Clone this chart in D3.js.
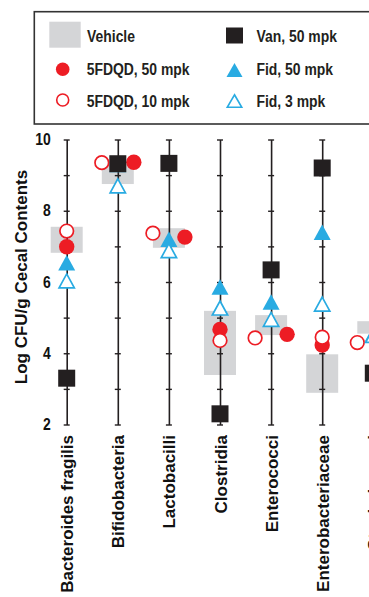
<!DOCTYPE html>
<html>
<head>
<meta charset="utf-8">
<script src="https://cdn.jsdelivr.net/npm/d3@7"></script>
<style>
    body { margin: 0; background: #fff; overflow: hidden; }
    svg { display: block; font-family: 'Liberation Sans', Arial, sans-serif; font-weight: bold; }
</style>
</head>
<body>
<svg id="chart" width="369" height="597"></svg>
<script>
var categories = ['Bacteroides fragilis', 'Bifidobacteria', 'Lactobacilli', 'Clostridia',
    'Enterococci', 'Enterobacteriaceae', 'Staphylococci'];
var vehicleLow = [6.82, 8.75, 6.96, 3.39, 4.51, 2.89, 4.55];
var vehicleHigh = [7.55, 9.3, 7.51, 5.19, 5.07, 3.97, 4.9];
var van50 = [3.30, 9.32, 9.33, 2.30, 6.34, 9.20, 3.44];
var fdqd50 = [6.99, 9.36, 7.26, 4.67, 4.53, 4.23, 4.4];
var fdqd10 = [7.43, 9.35, 7.37, 4.36, 4.43, 4.45, 4.3];
var fid50 = [6.54, 9.3, 7.2, 5.86, 5.44, 7.40, 4.55];
var fid3 = [6.03, 8.70, 6.88, 5.27, 4.95, 5.38, 4.5];
// circles pushed to the sides of the column where they collide with other marks
var circlesSplit = [false, true, true, false, true, false, true];
var yTicks = [2, 4, 6, 8, 10];
var legendLabels = ['Vehicle', 'Van, 50 mpk', '5FDQD, 50 mpk', 'Fid, 50 mpk', '5FDQD, 10 mpk', 'Fid, 3 mpk'];
var yTitle = 'Log CFU/g Cecal Contents';

var red = '#ed1c24';
var blue = '#29abe2';
var dark = '#231f20';
var grey = '#d4d5d7';
var squeeze = 0.87;
var splitOffset = 16;

var svg = d3.select('#chart');
var xScale = d3.scalePoint().domain(categories).range([66.7, 373.3]);
var yScale = d3.scaleLinear().domain([2, 10]).range([424.5, 139.5]);

function squeezeText(sel) {
    sel.each(function() {
        var len = this.getComputedTextLength();
        d3.select(this).attr('textLength', len * squeeze).attr('lengthAdjust', 'spacingAndGlyphs');
    });
}

function triPath(w, h) {
    return 'M0,' + (-h / 2) + 'L' + (w / 2) + ',' + (h / 2) + 'L' + (-w / 2) + ',' + (h / 2) + 'Z';
}

var rows = categories.map(function(c, i) {
    return {
        name: c, low: vehicleLow[i], high: vehicleHigh[i], van: van50[i],
        f50: fdqd50[i], f10: fdqd10[i], fid50: fid50[i], fid3: fid3[i], split: circlesSplit[i]
    };
});

/* Legend */
var legend = svg.append('g').attr('class', 'legend');
legend.append('rect')
    .attr('x', 34.3).attr('y', 11.7).attr('width', 360).attr('height', 112.3)
    .attr('fill', 'none').attr('stroke', '#333').attr('stroke-width', 1.6);
legend.append('rect').attr('x', 49.3).attr('y', 21.7).attr('width', 31.4).attr('height', 26).attr('fill', grey);
legend.append('rect').attr('x', 226).attr('y', 27.5).attr('width', 17).attr('height', 16).attr('fill', dark);
legend.append('circle').attr('cx', 62.7).attr('cy', 69.3).attr('r', 6.8).attr('fill', red);
legend.append('circle').attr('cx', 62.7).attr('cy', 100).attr('r', 6).attr('fill', '#fff')
    .attr('stroke', red).attr('stroke-width', 1.6);
legend.append('path').attr('transform', 'translate(234.5,70)').attr('d', triPath(16, 14)).attr('fill', blue);
legend.append('path').attr('transform', 'translate(234.5,101)').attr('d', triPath(14.5, 12.5))
    .attr('fill', '#fff').attr('stroke', blue).attr('stroke-width', 1.6);

var legendPos = [[87, 42], [256.5, 42], [86.7, 75], [256.5, 75], [86.7, 106.5], [256.5, 106.5]];
legend.selectAll('text.item')
    .data(legendLabels)
    .join('text')
    .attr('class', 'item')
    .attr('x', function(d, i) { return legendPos[i][0]; })
    .attr('y', function(d, i) { return legendPos[i][1]; })
    .style('font-size', '16px')
    .style('fill', dark)
    .text(function(d) { return d; })
    .call(squeezeText);

/* Vehicle boxes */
svg.append('g').selectAll('rect')
    .data(rows)
    .join('rect')
    .attr('x', function(d) { return xScale(d.name) - 16; })
    .attr('width', 32)
    .attr('y', function(d) { return yScale(d.high); })
    .attr('height', function(d) { return yScale(d.low) - yScale(d.high); })
    .attr('fill', grey);

/* One axis per column */
categories.forEach(function(c) {
    var g = svg.append('g')
        .attr('transform', 'translate(' + xScale(c) + ',0)')
        .call(d3.axisLeft(yScale).tickValues(d3.range(2, 11)).tickFormat('').tickSize(6).tickSizeOuter(0));
    g.select('.domain').attr('stroke', dark).attr('stroke-width', 1.6);
    g.selectAll('.tick line').attr('x1', 3).attr('x2', -3).attr('stroke', dark).attr('stroke-width', 1.4);
});

/* Tick labels */
var labelAxis = svg.append('g')
    .attr('transform', 'translate(' + xScale(categories[0]) + ',0)')
    .call(d3.axisLeft(yScale).tickValues(yTicks).tickSize(0).tickPadding(16));
labelAxis.select('.domain').remove();
labelAxis.selectAll('text')
    .attr('font-family', null)
    .style('font-size', '16px')
    .style('font-weight', 'bold')
    .style('fill', '#111')
    .call(squeezeText);

/* Markers */
svg.append('g').selectAll('circle')
    .data(rows)
    .join('circle')
    .attr('cx', function(d) { return xScale(d.name) + (d.split ? splitOffset : 0); })
    .attr('cy', function(d) { return yScale(d.f50); })
    .attr('r', 7.7)
    .attr('fill', red);

svg.append('g').selectAll('circle')
    .data(rows)
    .join('circle')
    .attr('cx', function(d) { return xScale(d.name) - (d.split ? splitOffset : 0); })
    .attr('cy', function(d) { return yScale(d.f10); })
    .attr('r', 6.8)
    .attr('fill', '#fff')
    .attr('stroke', red)
    .attr('stroke-width', 1.7);

svg.append('g').selectAll('path')
    .data(rows)
    .join('path')
    .attr('transform', function(d) { return 'translate(' + xScale(d.name) + ',' + yScale(d.fid50) + ')'; })
    .attr('d', triPath(17, 15.5))
    .attr('fill', blue);

svg.append('g').selectAll('rect')
    .data(rows)
    .join('rect')
    .attr('x', function(d) { return xScale(d.name) - 8.5; })
    .attr('y', function(d) { return yScale(d.van) - 8.5; })
    .attr('width', 17).attr('height', 17)
    .attr('fill', dark);

svg.append('g').selectAll('path')
    .data(rows)
    .join('path')
    .attr('transform', function(d) { return 'translate(' + xScale(d.name) + ',' + yScale(d.fid3) + ')'; })
    .attr('d', triPath(15.3, 14))
    .attr('fill', '#fff')
    .attr('stroke', blue)
    .attr('stroke-width', 1.7);

/* Category labels */
svg.append('g').selectAll('text')
    .data(categories)
    .join('text')
    .attr('transform', function(d) { return 'translate(' + (xScale(d) + 6.5) + ',435) rotate(-90)'; })
    .style('text-anchor', 'end')
    .style('font-size', '17px')
    .style('fill', '#111')
    .text(function(d) { return d; });

/* Y title */
svg.append('text')
    .attr('transform', 'translate(27,277) rotate(-90)')
    .style('text-anchor', 'middle')
    .style('font-size', '17px')
    .style('fill', '#111')
    .text(yTitle);
</script>
</body>
</html>
